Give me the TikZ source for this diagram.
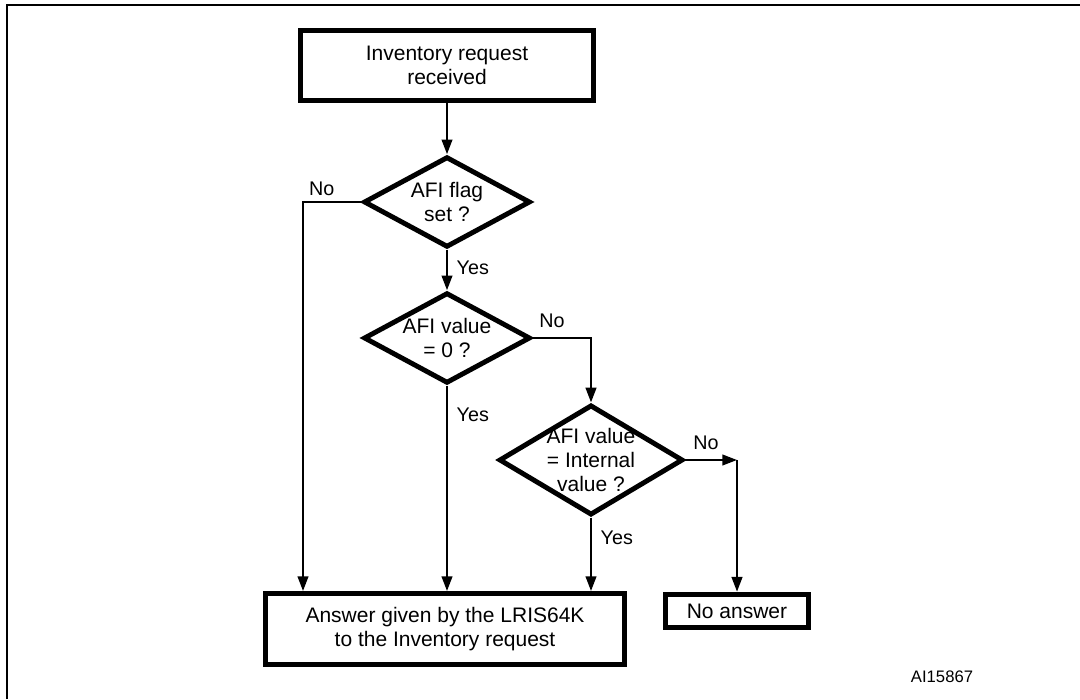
\documentclass[tikz,border=0pt]{standalone}
\usepackage{fontspec}
\setmainfont{Liberation Sans}
\usetikzlibrary{arrows.meta,positioning,shapes.geometric}
\tikzset{
  >={Triangle[length=11pt,width=8pt]},
  every picture/.style={line width=1.5pt},
  bx/.style={draw,line width=4pt,align=center,inner sep=0pt,font=\fontsize{15.75}{18.3}\selectfont},
  dec/.style={diamond,draw,line width=3.7pt,align=center,inner sep=-8pt,font=\fontsize{15.75}{18.3}\selectfont},
  arr/.style={->,line width=1.5pt},
  lab/.style={font=\fontsize{14.8}{17}\selectfont,inner sep=2pt},
  frm/.style={line width=1.9pt},
}
\begin{document}
\begin{tikzpicture}[x=0.75pt,y=0.75pt]
  \useasboundingbox (0,0) rectangle (1080,699);
  % frame
  \draw[frm] (7,0) -- (7,694) -- (1080,694);
  % boxes
  \node[bx,minimum width=220pt,minimum height=52.5pt] (req) at (447,633.5) {Inventory request\\received};
  \node[dec,minimum width=125pt,minimum height=68pt] (flg) at (447,497) {AFI flag\\set ?};
  \node[dec,minimum width=125pt,minimum height=68pt] (zero) at (447,361) {AFI value\\= 0 ?};
  \node[dec,minimum width=138pt,minimum height=79.5pt] (intv) at (591,239) {AFI value\\= Internal\\value ?};
  \node[bx,minimum width=269pt,minimum height=53pt] (ans) at (445,70) {Answer given by the LRIS64K\\to the Inventory request};
  \node[bx,minimum width=107pt,minimum height=25pt] (noans) at (737,88) {No answer};
  \node[font=\fontsize{12.5}{15}\selectfont,inner sep=0pt] (ref) at (942,22) {AI15867};
  % turning points
  \coordinate (lft) at (303,0 |- flg.west);
  \coordinate (rgt) at (intv.east -| noans.north);
  % arrows
  \draw[arr] (req.south) -- (flg.north);
  \draw[arr] (flg.south) -- node[right=4.5pt,lab,pos=0.45]{Yes} (zero.north);
  \draw[arr] (flg.west) -- node[above=2pt,lab,pos=0.68]{No} (lft) -- (lft |- ans.north);
  \draw[arr] (zero.south) -- node[right=4.5pt,lab,pos=0.14]{Yes} (zero.south |- ans.north);
  \draw[arr] (zero.east) -- node[above=4.75pt,lab,pos=0.33]{No} (zero.east -| intv.north) -- (intv.north);
  \draw[arr] (intv.south) -- node[right=4.5pt,lab,pos=0.28]{Yes} (intv.south |- ans.north);
  \draw[arr] (intv.east) -- node[above=4.75pt,lab,pos=0.4]{No} (rgt);
  \draw[arr] (rgt) -- (rgt |- noans.north);
\end{tikzpicture}
\end{document}
